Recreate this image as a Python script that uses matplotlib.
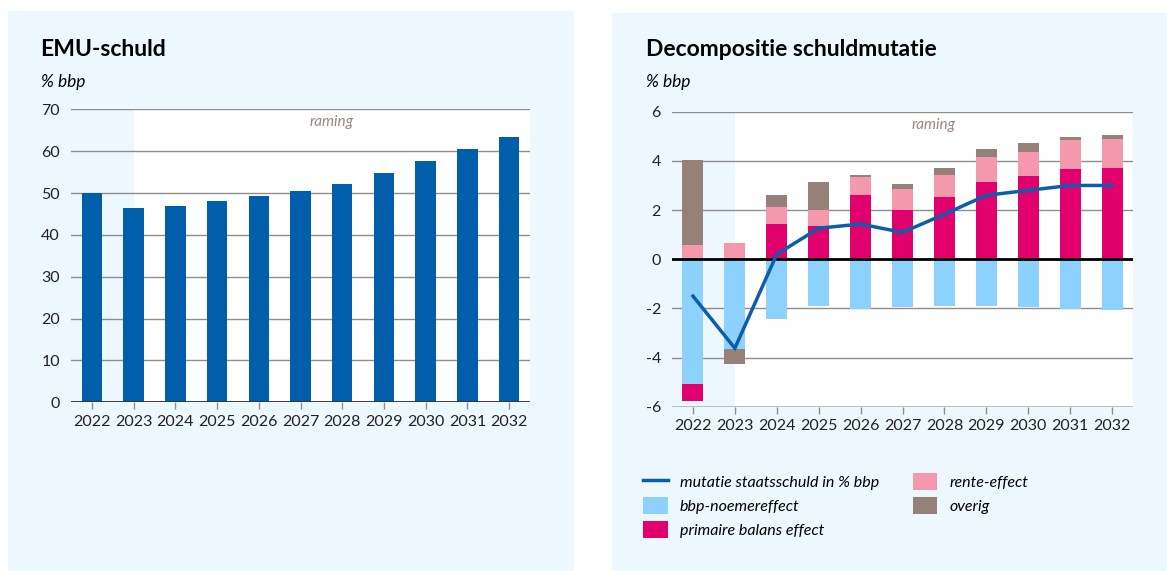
import matplotlib
matplotlib.use("Agg")
import matplotlib.pyplot as plt
import matplotlib.patches as mpatches
from matplotlib.lines import Line2D
import numpy as np

plt.rcParams['font.family'] = ['Lato', 'DejaVu Sans']

W, H = 1167, 571

# Data
years = ["2022", "2023", "2024", "2025", "2026", "2027", "2028", "2029", "2030", "2031", "2032"]
emu_schuld = [50.0, 46.5, 46.8, 48.0, 49.4, 50.4, 52.2, 54.8, 57.6, 60.5, 63.5]

bbp_noemer = [-5.08, -3.65, -2.43, -1.90, -2.01, -1.94, -1.91, -1.90, -1.94, -2.01, -2.06]
primaire_balans = [-0.70, 0.00, 1.44, 1.36, 2.60, 2.02, 2.54, 3.15, 3.39, 3.67, 3.73]
rente_effect = [0.58, 0.65, 0.68, 0.66, 0.76, 0.84, 0.89, 1.00, 0.99, 1.16, 1.16]
overig = [3.46, -0.62, 0.50, 1.13, 0.06, 0.18, 0.29, 0.34, 0.34, 0.16, 0.15]
mutatie = [-1.50, -3.62, 0.20, 1.26, 1.43, 1.09, 1.83, 2.60, 2.80, 3.00, 3.00]

first_forecast = 1  # index of 2023, raming starts here

# Colours
PANEL = "#EDF7FE"
DARK_BLUE = "#005EAB"
LIGHT_BLUE = "#8DD2FF"
MAGENTA = "#E2006F"
PINK = "#F498AD"
BROWN = "#95807A"
GRID = "#8E8E8E"
RAMING = "#9B8782"


def px(x0, y0, x1, y1):
    """pixel box (left, top, right, bottom) -> figure fraction rect"""
    return [x0 / W, 1 - y1 / H, (x1 - x0) / W, (y1 - y0) / H]


fig = plt.figure(figsize=(W / 100, H / 100), dpi=100, facecolor="white")

# light blue panels behind each chart
for (x0, y0, x1, y1) in [(8, 11, 574, 571), (612, 13, 1167, 571)]:
    l, b, w, h = px(x0, y0, x1, y1)
    fig.patches.append(mpatches.Rectangle((l, b), w, h, transform=fig.transFigure,
                                          facecolor=PANEL, edgecolor="none", zorder=-10))


def style_axis(ax, ymin, ymax, yticks):
    x = np.arange(len(years))
    ax.set_facecolor(PANEL)
    ax.set_xlim(-0.5, len(years) - 0.5)
    ax.set_ylim(ymin, ymax)
    ax.axvspan(first_forecast, len(years) - 0.5, color="white", zorder=0, lw=0)
    for yv in yticks:
        ax.axhline(yv, color=GRID, lw=1.0, zorder=1)
    ax.set_yticks(yticks)
    ax.set_yticklabels([str(v) for v in yticks], fontsize=11.5, color="#222222")
    ax.set_xticks(x)
    ax.set_xticklabels(years, fontsize=11.5, color="#222222")
    ax.tick_params(axis="y", length=0, pad=8)
    ax.tick_params(axis="x", length=5, width=1, color=GRID, pad=4, direction="out")
    for s in ax.spines.values():
        s.set_visible(False)
    ax.text((first_forecast + len(years) - 0.5) / 2, ymax - (ymax - ymin) * 0.02, "raming",
            ha="center", va="top", fontsize=11, style="italic", color=RAMING, zorder=3)
    return x


# EMU-schuld
ax1 = fig.add_axes(px(71, 109.3, 530, 402.3))
x = style_axis(ax1, 0, 70, [0, 10, 20, 30, 40, 50, 60, 70])
ax1.bar(x, emu_schuld, width=0.49, color=DARK_BLUE, zorder=2)
ax1.axhline(0, color="#333333", lw=1.3, zorder=3)

fig.text(40 / W, 1 - 50 / H, "EMU-schuld", fontsize=16.5, fontweight="bold",
         ha="left", va="center")
fig.text(41 / W, 1 - 82 / H, "% bbp", fontsize=12.5, style="italic",
         ha="left", va="center")

# Decompositie schuldmutatie
ax2 = fig.add_axes(px(672, 111.7, 1133, 406.7))
x = style_axis(ax2, -6, 6, [-6, -4, -2, 0, 2, 4, 6])
ax2.axhline(-6, color="#B5B5B5", lw=1.2, zorder=1)

components = [
    (bbp_noemer, LIGHT_BLUE, "bbp-noemereffect"),
    (primaire_balans, MAGENTA, "primaire balans effect"),
    (rente_effect, PINK, "rente-effect"),
    (overig, BROWN, "overig"),
]
pos_base = np.zeros(len(years))
neg_base = np.zeros(len(years))
for vals, color, label in components:
    v = np.array(vals)
    base = np.where(v >= 0, pos_base, neg_base)
    ax2.bar(x, v, bottom=base, width=0.5, color=color, zorder=2, lw=0)
    pos_base += np.where(v > 0, v, 0)
    neg_base += np.where(v < 0, v, 0)

ax2.axhline(0, color="black", lw=2, zorder=3)
ax2.plot(x, mutatie, color="#0B5EAA", lw=2.5, zorder=4, solid_joinstyle="miter")

fig.text(646 / W, 1 - 50 / H, "Decompositie schuldmutatie", fontsize=16.5,
         fontweight="bold", ha="left", va="center")
fig.text(646 / W, 1 - 82 / H, "% bbp", fontsize=12.5, style="italic",
         ha="left", va="center")

# Legend
handles = [Line2D([], [], color="#0B5EAA", lw=2.5)]
labels = ["mutatie staatsschuld in % bbp"]
for vals, color, label in components:
    handles.append(mpatches.Patch(facecolor=color, edgecolor="none"))
    labels.append(label)

leg = fig.legend(handles, labels, loc="upper left", ncol=2,
                 bbox_to_anchor=(643 / W, 1 - 473 / H), bbox_transform=fig.transFigure,
                 frameon=False, borderpad=0, borderaxespad=0,
                 handlelength=1.55, handleheight=1.25, handletextpad=0.75,
                 labelspacing=0.45, columnspacing=2.1,
                 prop={"size": 11.5, "style": "italic"})

fig.savefig("out.png", dpi=100, facecolor="white")
